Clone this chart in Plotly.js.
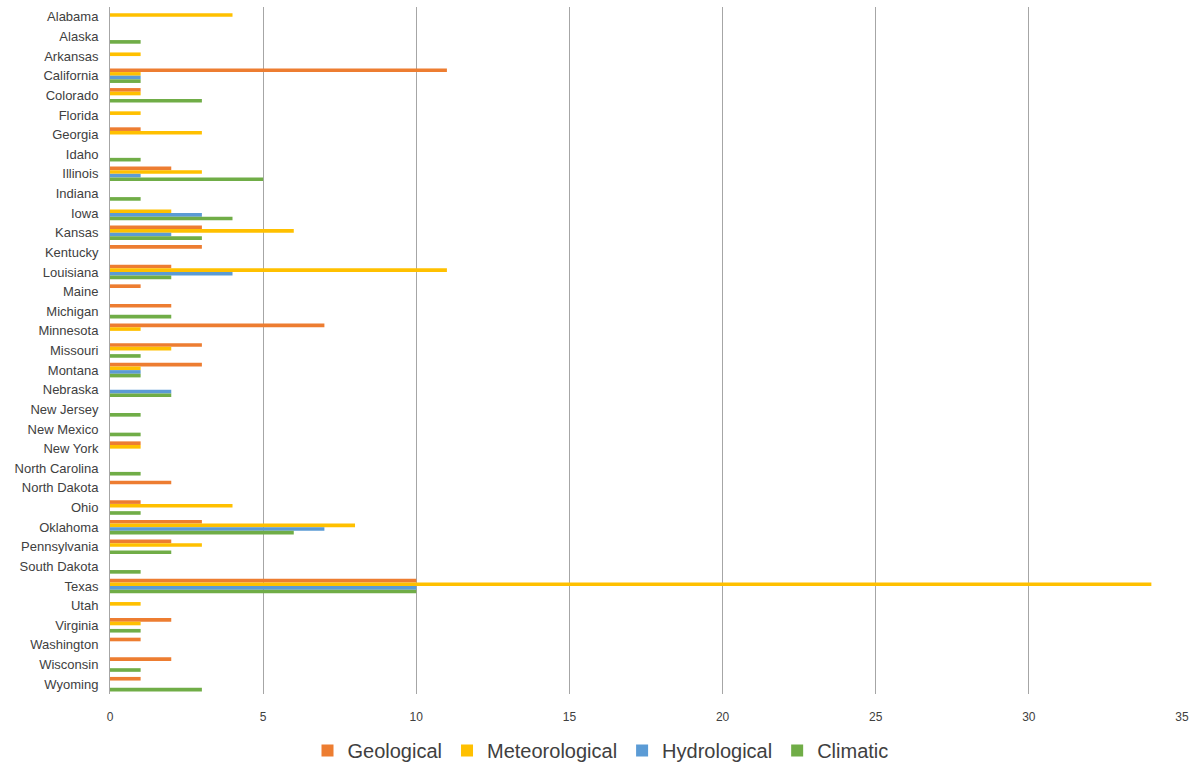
<!DOCTYPE html>
<html><head><meta charset="utf-8">
<script src="https://cdn.plot.ly/plotly-3.0.1.min.js"></script>
<style>body{margin:0;background:#fff}#chart{width:1201px;height:769px}</style>
</head><body><div id="chart"></div>
<script>
const states = ["Alabama","Alaska","Arkansas","California","Colorado","Florida","Georgia","Idaho","Illinois","Indiana","Iowa","Kansas","Kentucky","Louisiana","Maine","Michigan","Minnesota","Missouri","Montana","Nebraska","New Jersey","New Mexico","New York","North Carolina","North Dakota","Ohio","Oklahoma","Pennsylvania","South Dakota","Texas","Utah","Virginia","Washington","Wisconsin","Wyoming"];
const geological     = [0,0,0,11,1,0,1,0,2,0,0,3,3,2,1,2,7,3,3,0,0,0,1,0,2,1,3,2,0,10,0,2,1,2,1];
const meteorological = [4,0,1,1,1,1,3,0,3,0,2,6,0,11,0,0,1,2,1,0,0,0,1,0,0,4,8,3,0,34,1,1,0,0,0];
const hydrological   = [0,0,0,1,0,0,0,0,1,0,3,2,0,4,0,0,0,0,1,2,0,0,0,0,0,0,7,0,0,10,0,0,0,0,0];
const climatic       = [0,1,0,1,3,0,0,1,5,1,4,3,0,2,0,2,0,1,1,2,1,1,0,1,0,1,6,2,1,10,0,1,0,1,3];
const xTicks = [0,5,10,15,20,25,30,35];

const series = [
  {name:"Geological", data:geological, color:"#ED7D31"},
  {name:"Meteorological", data:meteorological, color:"#FFC000"},
  {name:"Hydrological", data:hydrological, color:"#5B9BD5"},
  {name:"Climatic", data:climatic, color:"#70AD47"}
];
const traces = series.map(s => ({
  type:"bar", orientation:"h", name:s.name, x:s.data, y:states,
  marker:{color:s.color}, hoverinfo:"x+y+name"
}));
const layout = {
  width:1201, height:769,
  margin:{l:110, r:19, t:7, b:75, autoexpand:false},
  barmode:"group", bargap:0.26, bargroupgap:0,
  paper_bgcolor:"#fff", plot_bgcolor:"#fff",
  font:{family:"Liberation Sans, Arial, sans-serif", color:"#404040", size:13},
  xaxis:{range:[0,35], tickvals:xTicks, ticktext:xTicks.map(String), showgrid:true, gridcolor:"#a6a6a6", gridwidth:1,
         zeroline:false, showline:false, ticks:"", tickfont:{size:12, color:"#404040"}, ticklabelstandoff:14, automargin:false},
  yaxis:{type:"category", autorange:"reversed", showline:true, linecolor:"#a6a6a6", linewidth:1,
         ticks:"", showgrid:false, tickfont:{size:13, color:"#404040"}, ticklabelstandoff:8, automargin:false},
  legend:{orientation:"h", x:0.5, xanchor:"center", xref:"container", y:0.024, yanchor:"middle", yref:"container", traceorder:"normal",
          font:{size:20, color:"#404040"}},
  showlegend:true
};
Plotly.newPlot("chart", traces, layout, {displayModeBar:false, staticPlot:true});
</script></body></html>
